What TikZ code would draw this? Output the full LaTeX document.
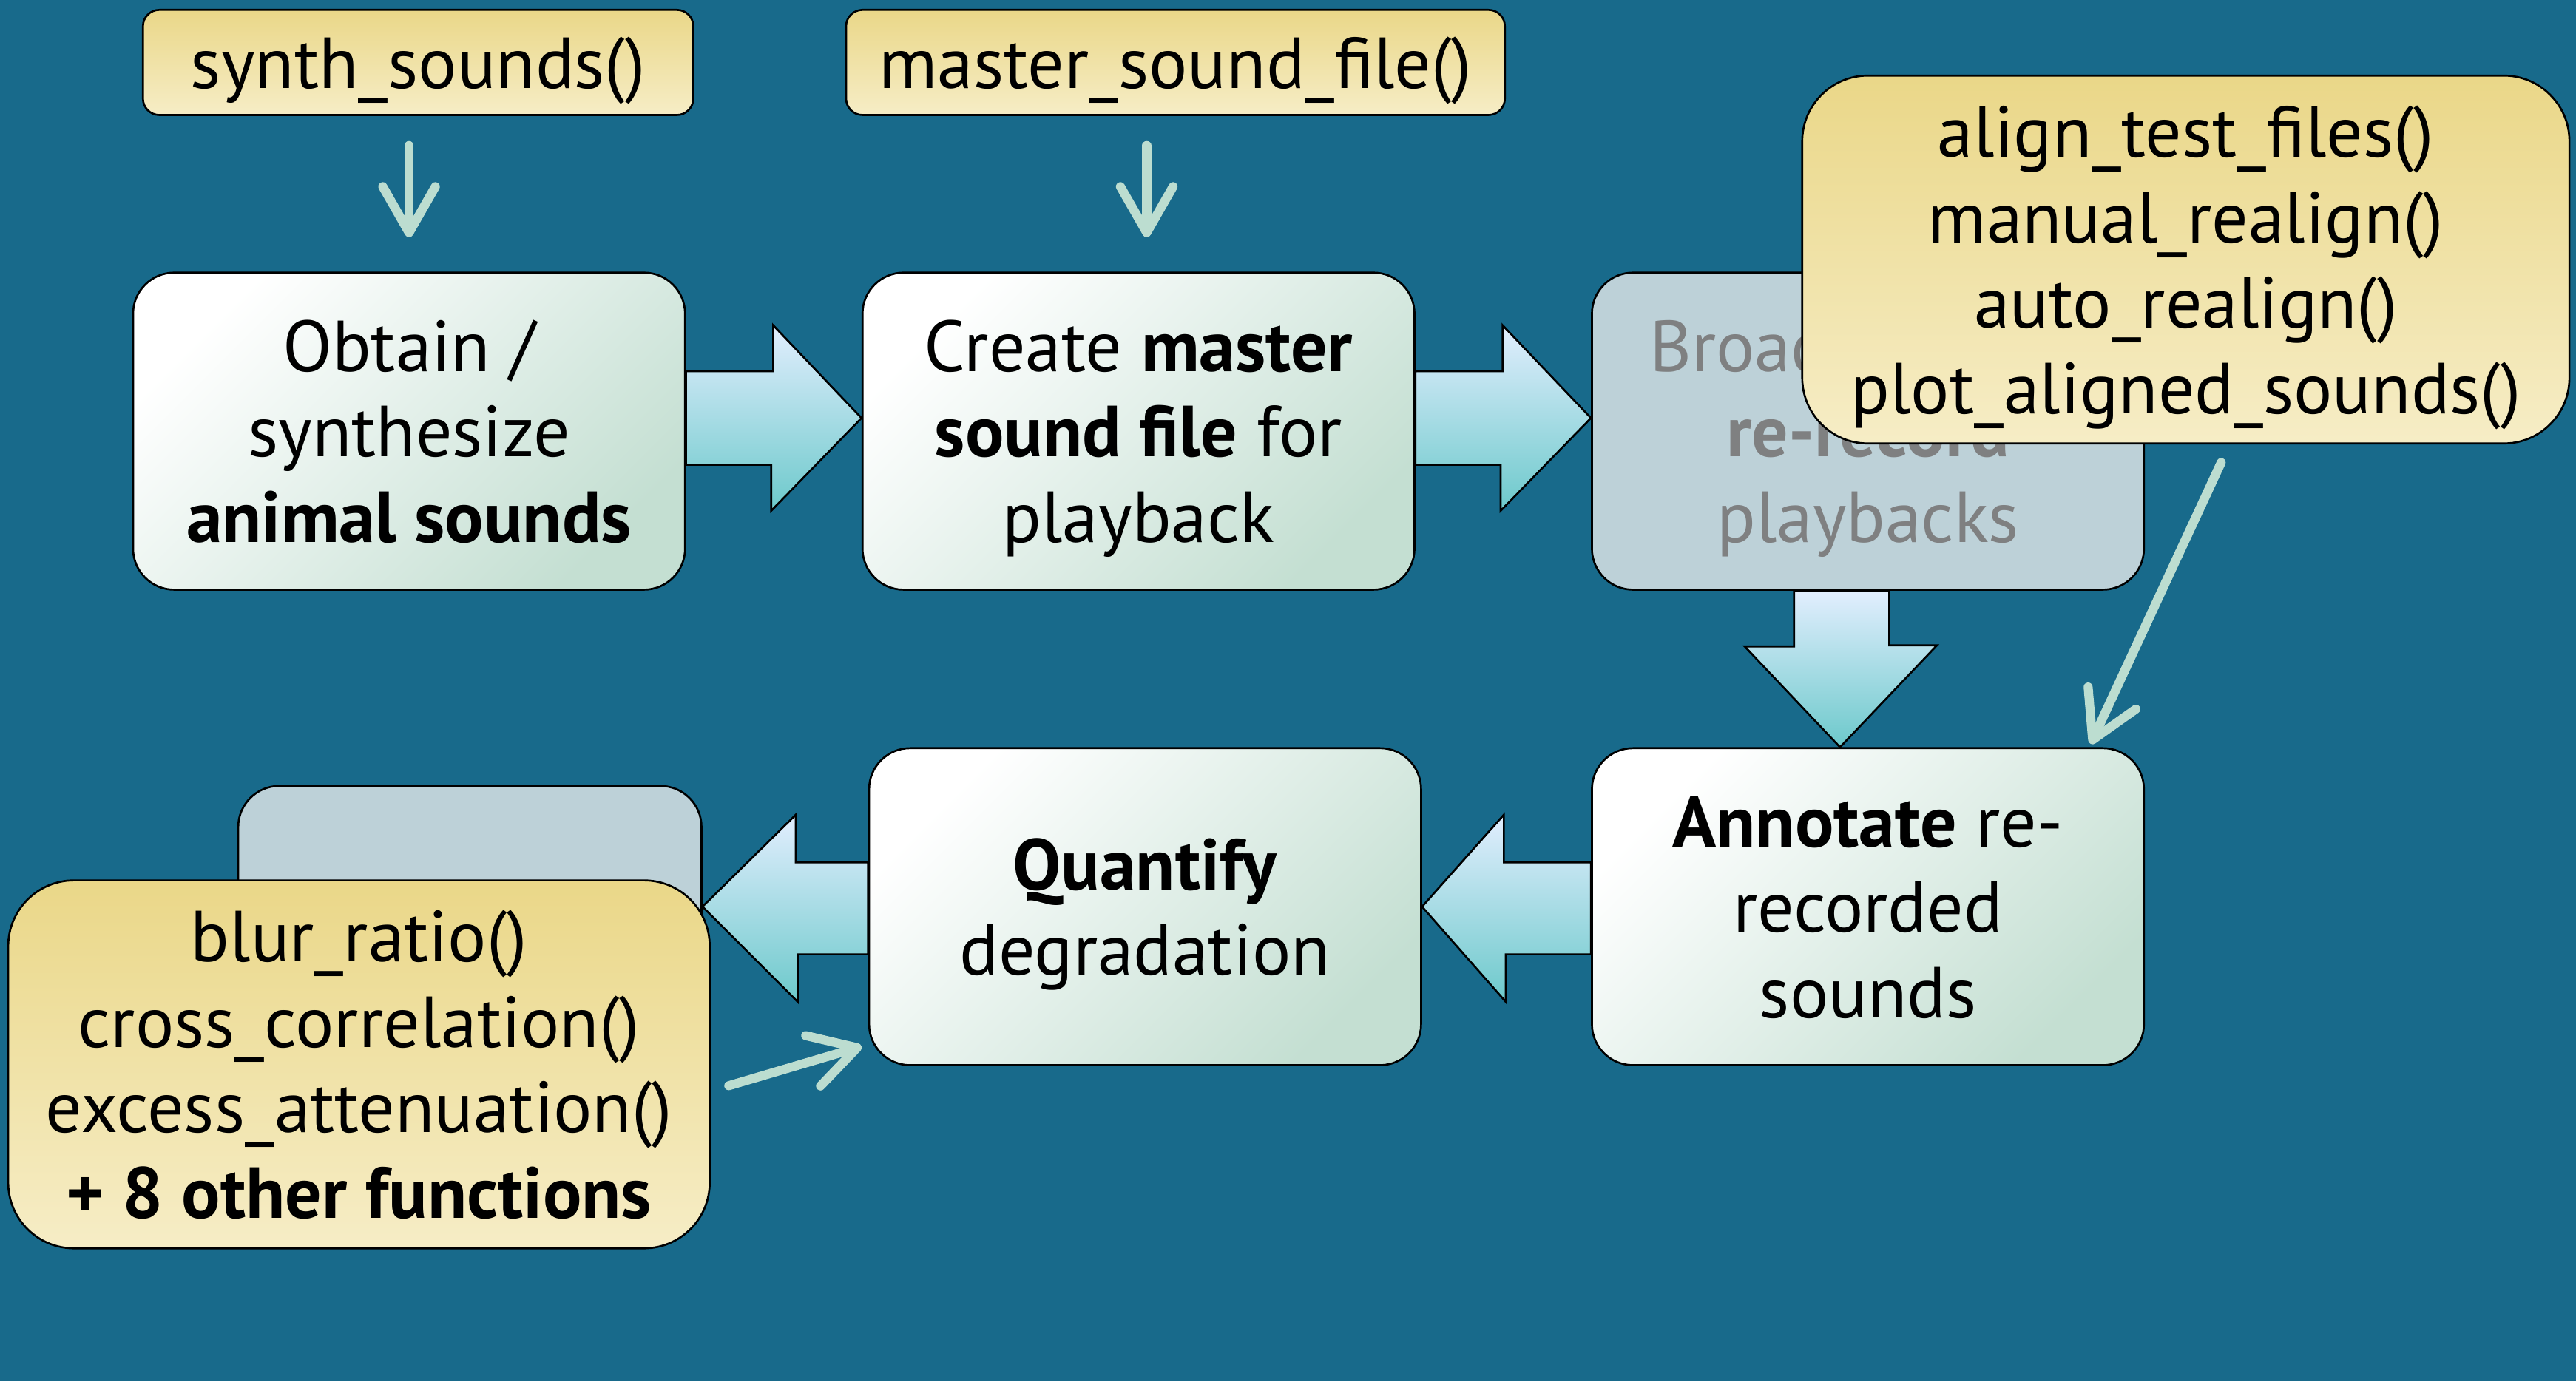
\documentclass[tikz,border=0pt]{standalone}
\usepackage{fontspec}
\setmainfont{PT Sans}
\usetikzlibrary{arrows.meta,calc}

\definecolor{bgblue}{HTML}{186A8B}
\definecolor{boxgreen}{HTML}{C4DFD2}
\definecolor{fadegrey}{HTML}{BDD1D8}
\definecolor{fadetext}{HTML}{7F8081}
\definecolor{yellowtop}{HTML}{EAD788}
\definecolor{yellowbot}{HTML}{F6EDC6}
\definecolor{arrowtop}{HTML}{E2EEFE}
\definecolor{arrowbot}{HTML}{6CC9CB}
\definecolor{fnline}{HTML}{BCDDD0}

\newcommand{\boxfont}{\fontsize{44}{52}\selectfont}

\begin{document}
\begin{tikzpicture}[x=1pt, y=-1pt, node distance=444pt,
	boxtext/.style={inner sep=0pt, align=center, font=\boxfont, text depth=0pt},
	boxbase/.style={boxtext, draw, line width=1.2pt, rounded corners=25pt, minimum width=336pt, minimum height=193pt},
	procbox/.style={boxbase, top color=white, bottom color=boxgreen, shading angle=45},
	fadebox/.style={boxbase, fill=fadegrey, text=fadetext},
	fnbox/.style={boxtext, draw, line width=1.2pt, top color=yellowtop, bottom color=yellowbot},
	blockarrow/.style={draw, line width=1.2pt, top color=arrowtop, bottom color=arrowbot},
	fnarrow/.style={draw=fnline, line width=5.5pt, line cap=round, -{Straight Barb[length=28pt, width=32pt, round]}}]

	\fill[bgblue] (0,0) rectangle (1568,841);
	\useasboundingbox (0,0) rectangle (1568,841);

	% main steps
	\node[procbox] (obtain) at (249,262.5) {Obtain /\\synthesize\\\textbf{animal sounds}};
	\node[procbox] (create) [right of=obtain] {Create \textbf{master}\\\textbf{sound file} for\\playback};
	\node[fadebox] (broadcast) [right of=create] {Broadcast and\\\textbf{re-record}\\playbacks};
	\node[procbox] (annotate) [below of=broadcast, node distance=289.5pt] {\textbf{Annotate} re-\\recorded\\sounds};
	\node[procbox] (quantify) [left of=annotate, node distance=440pt] {\textbf{Quantify}\\degradation};
	\node[fadebox, minimum width=282pt] (spare) at (286,575) {};

	% block arrows
	\draw[blockarrow] ([yshift=36.5pt]obtain.east) -- ++(53,0) -- ++(0,-28) -- ([yshift=8pt]create.west) -- ++(-55,56.5) -- ++(0,-28) -- ([yshift=-20.5pt]obtain.east) -- cycle;
	\draw[blockarrow] ([yshift=36.5pt]create.east) -- ++(53,0) -- ++(0,-28) -- ([yshift=8pt]broadcast.west) -- ++(-55,56.5) -- ++(0,-28) -- ([yshift=-20.5pt]create.east) -- cycle;
	\draw[blockarrow] ([xshift=-45pt]broadcast.south) -- ++(0,34) -- ++(-30,0) -- ([xshift=-17pt]annotate.north) -- ++(59,-62) -- ++(-29,0) -- ([xshift=13pt]broadcast.south) -- cycle;
	\draw[blockarrow] ([yshift=27pt]annotate.west) -- ++(-53,0) -- ++(0,-29) -- (quantify.east) -- ++(51,58) -- ++(0,-29) -- ([yshift=-29pt]annotate.west) -- cycle;
	\draw[blockarrow] ([yshift=27pt]quantify.west) -- ++(-44,0) -- ++(0,-29) -- (spare.east |- quantify.west) -- ++(58,58) -- ++(0,-29) -- ([yshift=-29pt]quantify.west) -- cycle;

	% functions
	\node[fnbox, rounded corners=10pt, minimum width=335pt, minimum height=64pt] (synth) at (254.5,38) {synth\_sounds()};
	\node[fnbox, rounded corners=10pt, minimum width=401pt, minimum height=64pt] (master) at (715.5,38) {master\_sound\_file()};
	\node[fnbox, rounded corners=40pt, minimum width=467pt, minimum height=224pt] (align) at (1330.5,158) {align\_test\_files()\\manual\_realign()\\auto\_realign()\\plot\_aligned\_sounds()};
	\node[fnbox, rounded corners=40pt, minimum width=427pt, minimum height=224pt] (blur) at (218.5,648) {blur\_ratio()\\cross\_correlation()\\excess\_attenuation()\\\textbf{+ 8 other functions}};

	\draw[fnarrow, shorten <=18pt, shorten >=21pt] (synth.south -| obtain.north) -- (obtain.north);
	\draw[fnarrow, shorten <=18pt, shorten >=21pt] ([xshift=5pt]create.north |- master.south) -- ([xshift=5pt]create.north);
	\draw[fnarrow] ([xshift=21.5pt,yshift=-11pt]align.south) -- ([xshift=-33pt,yshift=2pt]annotate.north east);
	\draw[fnarrow] ([xshift=11pt,yshift=-13pt]blur.east) -- ([xshift=-4pt,yshift=12pt]quantify.south west);
\end{tikzpicture}
\end{document}
